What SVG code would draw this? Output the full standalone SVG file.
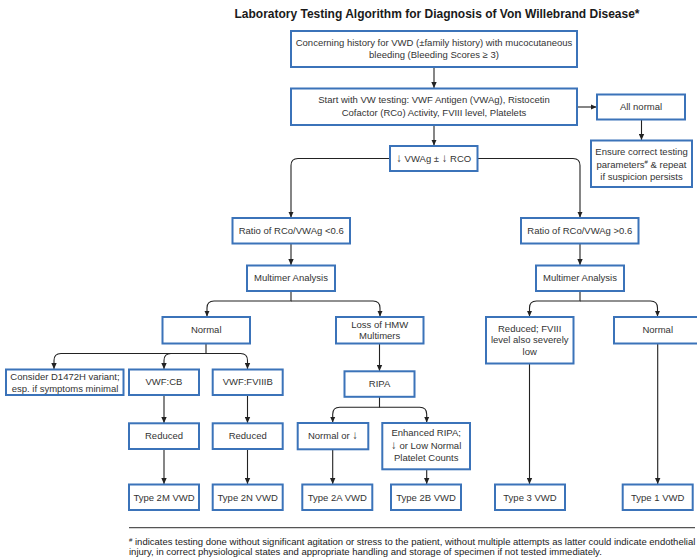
<svg xmlns="http://www.w3.org/2000/svg" width="697" height="558" viewBox="0 0 697 558">
<defs>
<style>
.box{fill:#fff;stroke:#3b73b9;stroke-width:2}
.t{font-family:"Liberation Sans",Arial,sans-serif;font-size:9.5px;fill:#333;text-anchor:middle}
.ar{font-size:11.5px}
.title{font-family:"Liberation Sans",Arial,sans-serif;font-size:12px;font-weight:bold;fill:#1a1a1a;text-anchor:middle}
.fn{font-family:"Liberation Sans",Arial,sans-serif;font-size:9.5px;fill:#222}
.c{fill:none;stroke:#222;stroke-width:1.1}
</style>
<marker id="ah" viewBox="0 0 10 10" refX="10" refY="5" markerWidth="6" markerHeight="6" markerUnits="userSpaceOnUse" orient="auto">
<path d="M0,0.5 L10,5 L0,9.5 z" fill="#222"/>
</marker>
</defs>
<rect width="697" height="558" fill="#fff"/>
<text class="title" x="437" y="17.5">Laboratory Testing Algorithm for Diagnosis of Von Willebrand Disease*</text>

<g id="connectors">
<path class="c" marker-end="url(#ah)" d="M434,67 V88"/>
<path class="c" marker-end="url(#ah)" d="M577,107 H596.5"/>
<path class="c" marker-end="url(#ah)" d="M641.5,119.5 V140"/>
<path class="c" marker-end="url(#ah)" d="M434,125 V145.5"/>
<path class="c" marker-end="url(#ah)" d="M390,158.5 H298 Q291,158.5 291,165.5 V217.5"/>
<path class="c" marker-end="url(#ah)" d="M477.5,158.5 H573 Q580,158.5 580,165.5 V217.5"/>
<path class="c" marker-end="url(#ah)" d="M291,243.5 V265"/>
<path class="c" marker-end="url(#ah)" d="M580,243.5 V265"/>
<path class="c" marker-end="url(#ah)" d="M291,291 V301 H214 Q207,301 207,308 V316.5"/>
<path class="c" marker-end="url(#ah)" d="M291,301 H373 Q380,301 380,308 V316.5"/>
<path class="c" marker-end="url(#ah)" d="M580,291 V301 H536.5 Q529.5,301 529.5,308 V316.5"/>
<path class="c" marker-end="url(#ah)" d="M580,301 H650.5 Q657.5,301 657.5,308 V316.5"/>
<path class="c" marker-end="url(#ah)" d="M206,343.5 V353.5 H61 Q54,353.5 54,360.5 V369"/>
<path class="c" marker-end="url(#ah)" d="M206,353.5 H171 Q164,353.5 164,360.5 V369"/>
<path class="c" marker-end="url(#ah)" d="M206,353.5 H240.5 Q247.5,353.5 247.5,360.5 V369"/>
<path class="c" marker-end="url(#ah)" d="M164,395 V423"/>
<path class="c" marker-end="url(#ah)" d="M164,449 V484"/>
<path class="c" marker-end="url(#ah)" d="M247.5,395 V423"/>
<path class="c" marker-end="url(#ah)" d="M247.5,449 V484"/>
<path class="c" marker-end="url(#ah)" d="M379.5,343.5 V371"/>
<path class="c" marker-end="url(#ah)" d="M379.5,396.5 V407.3 H339.7 Q332.7,407.3 332.7,414.3 V422.5"/>
<path class="c" marker-end="url(#ah)" d="M379.5,407.3 H419.7 Q426.7,407.3 426.7,414.3 V422.5"/>
<path class="c" marker-end="url(#ah)" d="M332.7,449.3 V484"/>
<path class="c" marker-end="url(#ah)" d="M426.7,469.3 V484"/>
<path class="c" marker-end="url(#ah)" d="M529.5,363.3 V484"/>
<path class="c" marker-end="url(#ah)" d="M657.7,343.3 V484"/>
</g>

<g id="n-history"><rect class="box" x="291" y="31" width="286" height="36"/>
<text class="t" x="434" y="46.4">Concerning history for VWD (±family history) with mucocutaneous</text>
<text class="t" x="434" y="57.8">bleeding (Bleeding Scores ≥ 3)</text></g>

<g id="n-start"><rect class="box" x="291" y="88.5" width="286" height="36.5"/>
<text class="t" x="434" y="103.4">Start with VW testing: VWF Antigen (VWAg), Ristocetin</text>
<text class="t" x="434" y="116">Cofactor (RCo) Activity, FVIII level, Platelets</text></g>

<g id="n-allnormal"><rect class="box" x="597" y="94.5" width="88" height="25"/>
<text class="t" x="641" y="110.2">All normal</text></g>

<g id="n-ensure"><rect class="box" x="591" y="140.5" width="101" height="46.5"/>
<text class="t" x="641.5" y="155.4">Ensure correct testing</text>
<text class="t" x="641.5" y="167.6">parameters<tspan font-size="6" dy="-3.5">#</tspan><tspan dy="3.5"> &amp; repeat</tspan></text>
<text class="t" x="641.5" y="179.9">if suspicion persists</text></g>

<g id="n-vwag"><rect class="box" x="390" y="146" width="87.5" height="25"/>
<text class="t" x="433.7" y="161.8"><tspan class="ar">↓</tspan> VWAg ± <tspan class="ar">↓</tspan> RCO</text></g>

<g id="n-ratio-low"><rect class="box" x="232.5" y="218" width="117.5" height="25.5"/>
<text class="t" x="291.2" y="233.9">Ratio of RCo/VWAg &lt;0.6</text></g>

<g id="n-multimer-l"><rect class="box" x="247" y="265.5" width="88" height="25.5"/>
<text class="t" x="291" y="281.4">Multimer Analysis</text></g>

<g id="n-ratio-high"><rect class="box" x="521" y="218" width="117.5" height="25.5"/>
<text class="t" x="579.8" y="233.9">Ratio of RCo/VWAg &gt;0.6</text></g>

<g id="n-multimer-r"><rect class="box" x="536" y="265.5" width="88" height="25.5"/>
<text class="t" x="580" y="281.4">Multimer Analysis</text></g>

<g id="n-normal-l"><rect class="box" x="162.5" y="317" width="87.5" height="26.5"/>
<text class="t" x="206.2" y="333.4">Normal</text></g>

<g id="n-loss"><rect class="box" x="336" y="317" width="87.5" height="26.5"/>
<text class="t" x="379.7" y="328">Loss of HMW</text>
<text class="t" x="379.7" y="339">Multimers</text></g>

<g id="n-reduced-fviii"><rect class="box" x="486" y="317" width="87.5" height="46.5"/>
<text class="t" x="529.7" y="331.6">Reduced; FVIII</text>
<text class="t" x="529.7" y="343.3">level also severely</text>
<text class="t" x="529.7" y="355.2">low</text></g>

<g id="n-normal-r"><rect class="box" x="614" y="317" width="88" height="26.5"/>
<text class="t" x="657.7" y="333.4">Normal</text></g>

<g id="n-consider"><rect class="box" x="6" y="369.5" width="117.5" height="25.5"/>
<text class="t" x="65" y="380">Consider D1472H variant;</text>
<text class="t" x="65" y="392.3">esp. if symptoms minimal</text></g>

<g id="n-vwfcb"><rect class="box" x="129" y="369.5" width="70" height="25.5"/>
<text class="t" x="164" y="385.4">VWF:CB</text></g>

<g id="n-vwffviiib"><rect class="box" x="212.7" y="369.5" width="70" height="25.5"/>
<text class="t" x="247.7" y="385.4">VWF:FVIIIB</text></g>

<g id="n-ripa"><rect class="box" x="344.5" y="371.3" width="70" height="25.5"/>
<text class="t" x="379.5" y="387.2">RIPA</text></g>

<g id="n-reduced-cb"><rect class="box" x="129" y="423.3" width="70" height="25.7"/>
<text class="t" x="164" y="439.4">Reduced</text></g>

<g id="n-reduced-fviiib"><rect class="box" x="212.7" y="423.3" width="70" height="25.7"/>
<text class="t" x="247.7" y="439.4">Reduced</text></g>

<g id="n-normal-or"><rect class="box" x="297.7" y="423" width="70.6" height="26.3"/>
<text class="t" x="333" y="439.4">Normal or <tspan class="ar">↓</tspan></text></g>

<g id="n-enhanced"><rect class="box" x="382.3" y="423" width="87.7" height="46.3"/>
<text class="t" x="426.2" y="436.4">Enhanced RIPA;</text>
<text class="t" x="426.2" y="448.7"><tspan class="ar">↓</tspan> or Low Normal</text>
<text class="t" x="426.2" y="460.8">Platelet Counts</text></g>

<g id="n-type2m"><rect class="box" x="129" y="484.5" width="70" height="25.5"/>
<text class="t" x="164" y="500.5">Type 2M VWD</text></g>

<g id="n-type2n"><rect class="box" x="212.7" y="484.5" width="70" height="25.5"/>
<text class="t" x="247.7" y="500.5">Type 2N VWD</text></g>

<g id="n-type2a"><rect class="box" x="302.3" y="484.5" width="70" height="25.5"/>
<text class="t" x="337.3" y="500.5">Type 2A VWD</text></g>

<g id="n-type2b"><rect class="box" x="391" y="484.5" width="70" height="25.5"/>
<text class="t" x="426" y="500.5">Type 2B VWD</text></g>

<g id="n-type3"><rect class="box" x="495" y="484.5" width="70" height="25.5"/>
<text class="t" x="530" y="500.5">Type 3 VWD</text></g>

<g id="n-type1"><rect class="box" x="622.7" y="484.5" width="70" height="25.5"/>
<text class="t" x="657.7" y="500.5">Type 1 VWD</text></g>

<line x1="129" y1="527.7" x2="695" y2="527.7" stroke="#555" stroke-width="1.3"/>
<text class="fn" x="129" y="544.8"><tspan font-size="6" dy="-3.2">#</tspan><tspan dy="3.2"> indicates testing done without significant agitation or stress to the patient, without multiple attempts as latter could indicate endothelial</tspan></text>
<text class="fn" x="129" y="554.8">injury, in correct physiological states and appropriate handling and storage of specimen if not tested immediately.</text>
</svg>
